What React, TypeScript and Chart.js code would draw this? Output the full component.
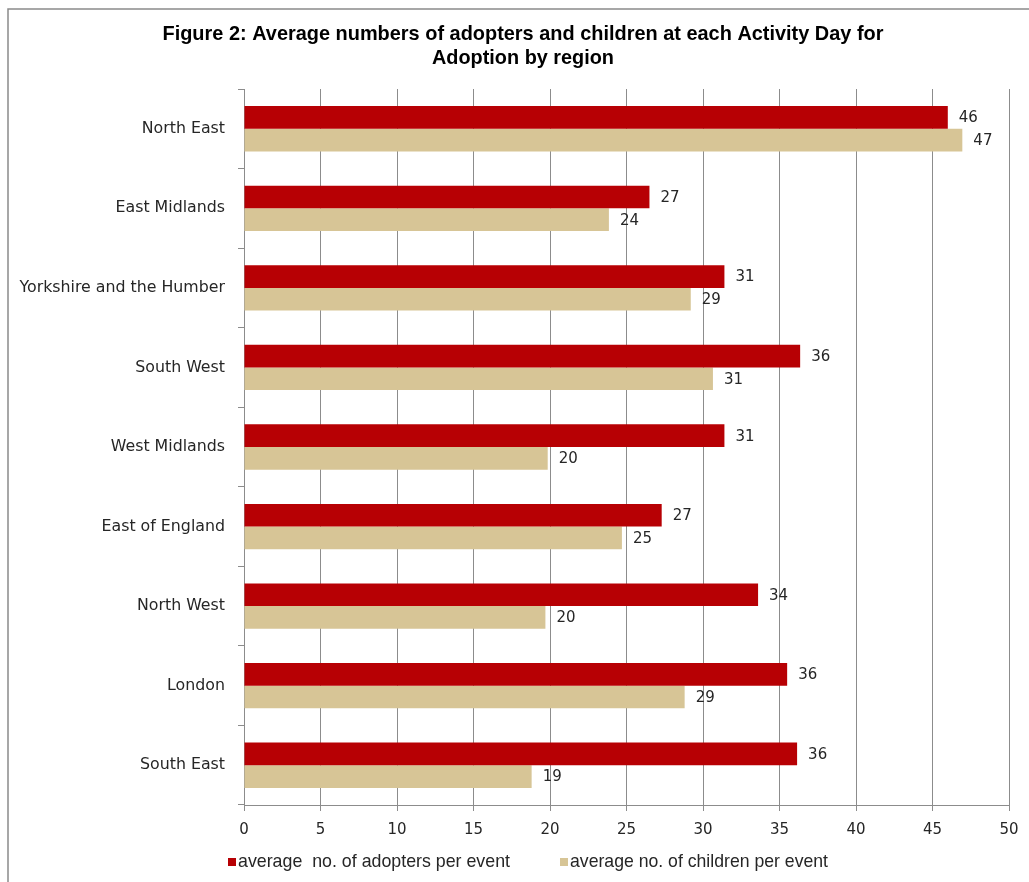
import React, { useEffect, useRef } from "react";
import { Chart, registerables } from "chart.js";

Chart.register(...registerables);

const REGIONS = [
  "North East",
  "East Midlands",
  "Yorkshire and the Humber",
  "South West",
  "West Midlands",
  "East of England",
  "North West",
  "London",
  "South East",
];
const ADOPTERS = [46.0, 26.5, 31.4, 36.35, 31.4, 27.3, 33.6, 35.5, 36.15];
const CHILDREN = [46.95, 23.85, 29.2, 30.65, 19.85, 24.7, 19.7, 28.8, 18.8];
const SERIES_NAMES = [
  "average  no. of adopters per event",
  "average no. of children per event",
];
const SERIES_COLORS = ["#B70004", "#D7C596"];
const TITLE_LINES = [
  "Figure 2: Average numbers of adopters and children at each Activity Day for",
  "Adoption by region",
];
const X_MIN = 0;
const X_MAX = 50;
const X_STEP = 5;

const W = 1029;
const H = 882;
const TEXT = "#262626";
const GRID = "#8c8c8c";
const VFONT = '"DejaVu Sans", Verdana, sans-serif';
const CFONT = '"Liberation Sans", Arial, sans-serif';

const framePlugin = {
  id: "frame",
  beforeDraw(chart: any) {
    const ctx = chart.ctx;
    ctx.save();
    ctx.fillStyle = "#ffffff";
    ctx.fillRect(0, 0, W, H);
    ctx.strokeStyle = "#8a8a8a";
    ctx.lineWidth = 1.5;
    ctx.beginPath();
    ctx.moveTo(8, H);
    ctx.lineTo(8, 9);
    ctx.lineTo(W, 9);
    ctx.stroke();
    ctx.restore();
  },
};

const titlePlugin = {
  id: "titleLines",
  afterDraw(chart: any) {
    const ctx = chart.ctx;
    ctx.save();
    ctx.fillStyle = "#000000";
    ctx.font = `bold 21px ${CFONT}`;
    ctx.textAlign = "center";
    ctx.textBaseline = "middle";
    ctx.fillText(TITLE_LINES[0], 523, 34, 721);
    ctx.fillText(TITLE_LINES[1], 523, 58, 182);
    ctx.restore();
  },
};

const legendPlugin = {
  id: "legendRow",
  afterDraw(chart: any) {
    const ctx = chart.ctx;
    ctx.save();
    ctx.font = `19px ${CFONT}`;
    ctx.textBaseline = "middle";
    ctx.textAlign = "left";
    const starts = [228, 560];
    const widths = [272, 258];
    chart.data.datasets.forEach((ds: any, i: number) => {
      const x = starts[i];
      ctx.fillStyle = ds.backgroundColor;
      ctx.fillRect(x, 858, 8, 8);
      ctx.fillStyle = TEXT;
      ctx.fillText(ds.label, x + 10, 862, widths[i]);
    });
    ctx.restore();
  },
};

const dataLabelPlugin = {
  id: "dataLabels",
  afterDatasetsDraw(chart: any) {
    const ctx = chart.ctx;
    ctx.save();
    ctx.font = `15px ${VFONT}`;
    ctx.fillStyle = TEXT;
    ctx.textAlign = "left";
    ctx.textBaseline = "middle";
    chart.data.datasets.forEach((ds: any, di: number) => {
      const meta = chart.getDatasetMeta(di);
      meta.data.forEach((bar: any, i: number) => {
        ctx.fillText(String(Math.round(ds.data[i])), bar.x + 11, bar.y + 1);
      });
    });
    ctx.restore();
  },
};

export default function App() {
  const ref = useRef<HTMLCanvasElement | null>(null);

  useEffect(() => {
    document.body.style.margin = "0";
    document.body.style.overflow = "hidden";
    const canvas = ref.current;
    if (!canvas) return;
    const chart = new Chart(canvas, {
      type: "bar",
      data: {
        labels: REGIONS,
        datasets: [
          {
            label: SERIES_NAMES[0],
            data: ADOPTERS,
            backgroundColor: SERIES_COLORS[0],
            borderWidth: 0,
            categoryPercentage: 0.57,
            barPercentage: 1.0,
          },
          {
            label: SERIES_NAMES[1],
            data: CHILDREN,
            backgroundColor: SERIES_COLORS[1],
            borderWidth: 0,
            categoryPercentage: 0.57,
            barPercentage: 1.0,
          },
        ],
      },
      options: {
        indexAxis: "y",
        responsive: false,
        animation: false,
        devicePixelRatio: 1,
        layout: { padding: { top: 89, right: 20, bottom: 37, left: 0 } },
        plugins: {
          legend: { display: false },
          title: { display: false },
          tooltip: { enabled: false },
        },
        scales: {
          x: {
            type: "linear",
            position: "bottom",
            min: X_MIN,
            max: X_MAX,
            ticks: {
              stepSize: X_STEP,
              color: TEXT,
              font: { family: VFONT, size: 15 },
              padding: 10,
            },
            grid: {
              color: GRID,
              lineWidth: 1,
              drawTicks: true,
              tickLength: 6,
              tickColor: GRID,
            },
            border: { display: true, color: GRID, width: 1 },
            afterFit: (scale: any) => {
              scale.height = 40;
            },
          },
          y: {
            type: "category",
            position: "left",
            ticks: {
              color: TEXT,
              font: { family: VFONT, size: 15.8 },
              padding: 13,
            },
            grid: {
              display: true,
              drawOnChartArea: false,
              drawTicks: true,
              tickLength: 6,
              offset: true,
              color: GRID,
              tickColor: GRID,
            },
            border: { display: true, color: GRID, width: 1 },
            afterFit: (scale: any) => {
              scale.width = 244;
            },
          },
        },
      },
      plugins: [framePlugin, dataLabelPlugin, titlePlugin, legendPlugin],
    } as any);
    return () => chart.destroy();
  }, []);

  return (
    <div style={{ position: "absolute", left: 0, top: 0, width: W, height: H }}>
      <canvas ref={ref} width={W} height={H} style={{ display: "block" }} />
    </div>
  );
}
